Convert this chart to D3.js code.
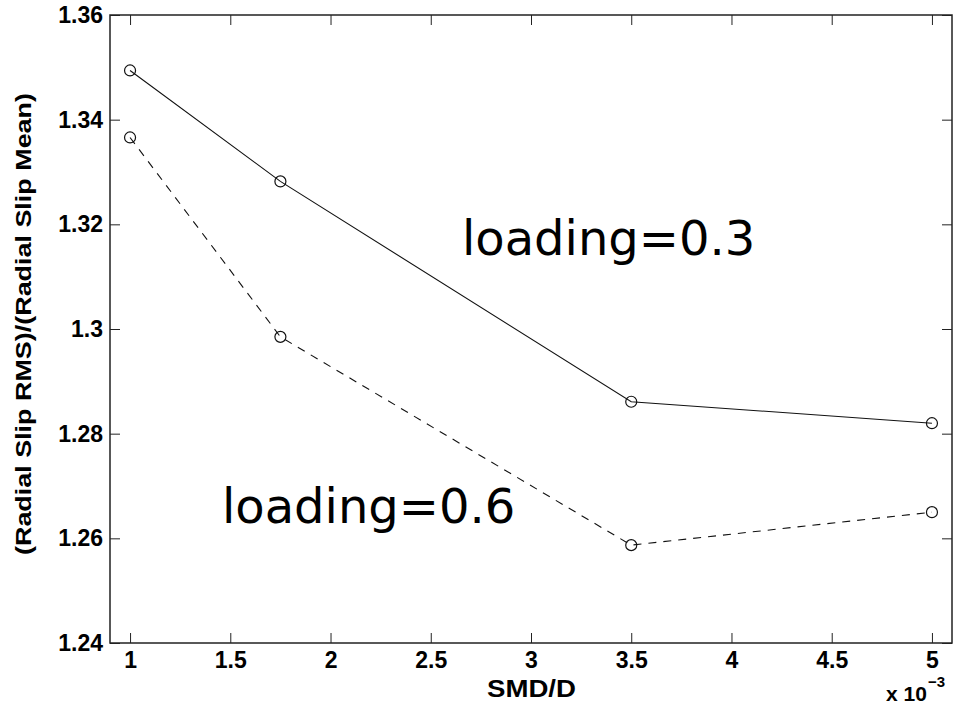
<!DOCTYPE html>
<html>
<head>
<meta charset="utf-8">
<script src="https://cdn.jsdelivr.net/npm/d3@7"></script>
<style>
  body { margin: 0; background: #fff; }
  .tick text { font-family: "Liberation Sans", Arial, sans-serif; font-weight: bold; font-size: 23px; fill: #000; }
</style>
</head>
<body>
<svg id="svg1" width="966" height="708"></svg>
<script>
var smd = [1, 1.75, 3.5, 5];
var slipLoad03 = [1.3494, 1.3282, 1.2861, 1.2820];
var slipLoad06 = [1.3366, 1.2985, 1.2587, 1.2650];
var xTicks = [1, 1.5, 2, 2.5, 3, 3.5, 4, 4.5, 5];
var yTicks = [1.24, 1.26, 1.28, 1.30, 1.32, 1.34, 1.36];

var svg = d3.select("#svg1"),
    plotL = 110, plotR = 952, plotT = 15, plotB = 643;

var x = d3.scaleLinear().domain([0.9, 5.1]).range([plotL, plotR]);
var y = d3.scaleLinear().domain([1.24, 1.36]).range([plotB, plotT]);

// ticks pointing inward on all four sides
function box(axis, tx, ty, showLabels) {
    var g = svg.append("g").attr("transform", "translate(" + tx + "," + ty + ")").call(axis);
    g.select(".domain").remove();
    g.selectAll(".tick line").attr("stroke", "#222").attr("stroke-width", 1);
    if (!showLabels) g.selectAll(".tick text").remove();
    return g;
}

var fmtY = function(d) { return d3.format(".2f")(d).replace(/0$/, "").replace(/\.$/, ""); };

box(d3.axisBottom(x).tickValues(xTicks).tickSize(-10).tickPadding(9).tickFormat(function(d) { return d; }), 0, plotB, true);
box(d3.axisTop(x).tickValues(xTicks).tickSize(-10).tickFormat(""), 0, plotT, false);
box(d3.axisLeft(y).tickValues(yTicks).tickSize(-10).tickPadding(7).tickFormat(fmtY), plotL, 0, true);
box(d3.axisRight(y).tickValues(yTicks).tickSize(-10).tickFormat(""), plotR, 0, false);

svg.append("rect")
    .attr("x", plotL).attr("y", plotT)
    .attr("width", plotR - plotL).attr("height", plotB - plotT)
    .attr("fill", "none").attr("stroke", "#222").attr("stroke-width", 1.5);

var line = d3.line()
    .x(function(d) { return x(d[0]); })
    .y(function(d) { return y(d[1]); });

var series = [
    { values: slipLoad03, dash: null },
    { values: slipLoad06, dash: "8,7" }
];

series.forEach(function(s) {
    var pts = smd.map(function(v, i) { return [v, s.values[i]]; });
    svg.append("path")
        .datum(pts)
        .attr("d", line)
        .attr("fill", "none")
        .attr("stroke", "#111")
        .attr("stroke-width", 1.1)
        .attr("stroke-dasharray", s.dash);
    svg.append("g").selectAll("circle")
        .data(pts)
        .enter().append("circle")
        .attr("cx", function(d) { return x(d[0]); })
        .attr("cy", function(d) { return y(d[1]); })
        .attr("r", 5.5)
        .attr("fill", "none")
        .attr("stroke", "#111")
        .attr("stroke-width", 1.2);
});

svg.append("text")
    .attr("x", 462).attr("y", 255)
    .attr("font-family", "DejaVu Sans")
    .attr("font-size", 48)
    .text("loading=0.3");

svg.append("text")
    .attr("x", 222).attr("y", 523)
    .attr("font-family", "DejaVu Sans")
    .attr("font-size", 48)
    .text("loading=0.6");

svg.append("text")
    .attr("x", 487).attr("y", 697)
    .attr("font-family", "Liberation Sans, Arial, sans-serif")
    .attr("font-weight", "bold")
    .attr("font-size", 23)
    .attr("textLength", 89)
    .attr("lengthAdjust", "spacingAndGlyphs")
    .text("SMD/D");

svg.append("text")
    .attr("transform", "translate(31,555) rotate(-90)")
    .attr("font-family", "Liberation Sans, Arial, sans-serif")
    .attr("font-weight", "bold")
    .attr("font-size", 22)
    .attr("textLength", 462)
    .attr("lengthAdjust", "spacingAndGlyphs")
    .text("(Radial Slip RMS)/(Radial Slip Mean)");

var exp = svg.append("text")
    .attr("x", 886).attr("y", 701)
    .attr("font-family", "Liberation Sans, Arial, sans-serif")
    .attr("font-weight", "bold")
    .attr("font-size", 21);
exp.append("tspan").text("x 10");
exp.append("tspan").attr("dx", 1).attr("dy", -14).attr("font-size", 15).text("\u22123");
</script>
</body>
</html>
